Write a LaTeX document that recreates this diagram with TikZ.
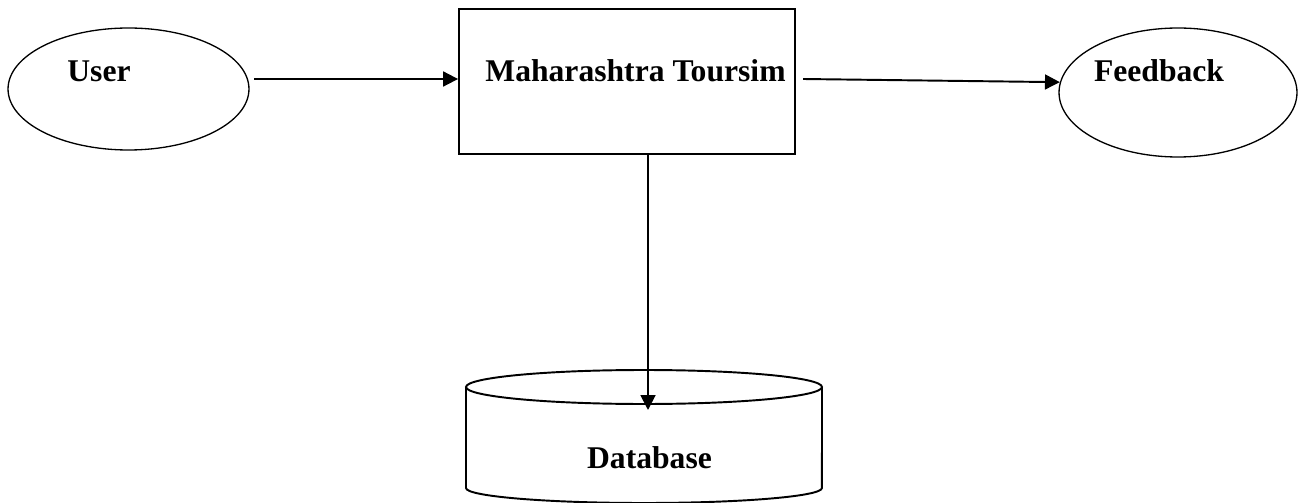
\documentclass[tikz,border=0pt]{standalone}
\usepackage{fontspec}
\setmainfont{Liberation Serif}
\usepackage{tikz}
\usetikzlibrary{shapes.geometric, arrows.meta, positioning, calc}
\definecolor{mydark}{RGB}{0,0,0}
\tikzset{
  entity/.style={ellipse, draw=mydark, line width=0.75pt, inner sep=0pt},
  procbox/.style={rectangle, draw=mydark, line width=1.1pt, inner sep=0pt},
  store/.style={draw=mydark, line width=1.1pt},
  lbl/.style={anchor=base, font=\fontsize{18}{21}\selectfont\bfseries},
  flowarrow/.style={-{Triangle[length=8.5pt, width=8.5pt]}, line width=1.1pt, color=mydark}
}

\begin{document}
\begin{tikzpicture}[x=0.02cm, y=-0.02cm]
  \useasboundingbox (0,0) rectangle (1311,503);
  % Define shapes
  \node[entity, minimum width=4.82cm, minimum height=2.44cm] (user) at (128.5,89) {};
  \node[procbox, minimum width=6.72cm, minimum height=2.9cm] (portal) at (627,81.5) {};
  \node[entity, minimum width=4.76cm, minimum height=2.58cm] (feedback) at (1178,92.5) {};

  % Database cylinder
  \coordinate (dbtop) at (644,387);
  \draw[store] (dbtop) ellipse [x radius=3.56cm, y radius=0.34cm];
  \draw[store] ($(dbtop)+(-178,0)$) -- ++(0,101)
    arc[start angle=180, end angle=360, x radius=3.56cm, y radius=0.3cm]
    -- ($(dbtop)+(178,0)$);

  % Labels
  \node[lbl] (userlbl) at (99,82) {User};
  \node[lbl] (portallbl) at (635.5,82) {Maharashtra Toursim};
  \node[lbl] (feedbacklbl) at (1159,82) {Feedback};
  \node[lbl] (dblbl) at (649.5,468) {Database};

  % Flows
  \coordinate (u1) at (254,79);
  \coordinate (f1) at (803,79);
  \coordinate (d1) at (648,410);
  \draw[flowarrow] (u1) -- (u1 -| portal.west);
  \draw[flowarrow] (f1) -- (feedback.175);
  \draw[flowarrow] (d1 |- portal.south) -- (d1);
\end{tikzpicture}
\end{document}
